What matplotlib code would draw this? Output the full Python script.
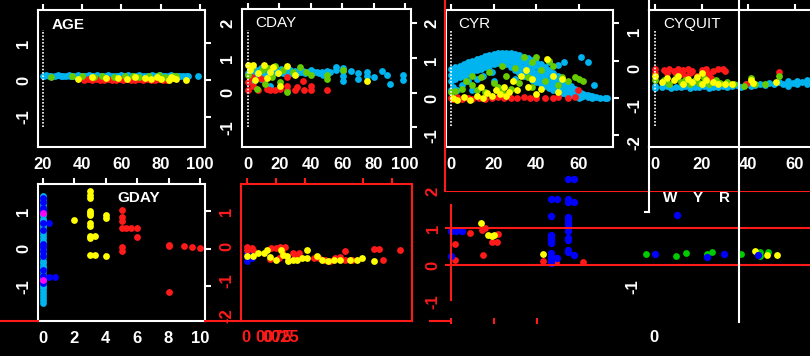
import matplotlib
matplotlib.use("Agg")
import matplotlib.pyplot as plt

plt.rcParams['font.family'] = ['Liberation Sans', 'DejaVu Sans']

# colours used by the original R plot
CYAN = '#00B4F0'
GREEN = '#66CC00'
YELLOW = '#FFFF00'
RED = '#FF1A1A'
BLUE = '#0000FF'
GREEN2 = '#00CC00'
MAGENTA = '#FF00FF'

# ---------------- data ----------------
age_cyan_x = [20, 20.5, 21.5, 23, 24, 26, 27.5, 29, 30, 31.5, 33, 34, 35.5, 37, 38, 39.5, 41, 42, 43.5, 45,
              46, 47.5, 49, 50, 51.5, 53, 54, 55.5, 57, 58, 59.5, 61, 62, 63.5, 65, 66, 67.5, 69, 70, 71.5,
              73, 74, 75.5, 77, 78, 79.5, 81, 82, 83.5, 85, 86, 87.5, 89, 90, 91.5, 93, 94, 99]
age_cyan_y = [0.12, 0.11, 0.13, 0.12, 0.12, 0.11, 0.13, 0.12, 0.11, 0.12,
              0.13, 0.12, 0.11, 0.12, 0.13, 0.11, 0.12, 0.12, 0.13, 0.11,
              0.12, 0.13, 0.12, 0.11, 0.12, 0.13, 0.12, 0.11, 0.12, 0.12,
              0.13, 0.11, 0.12, 0.13, 0.12, 0.11, 0.12, 0.13, 0.12, 0.11,
              0.12, 0.12, 0.13, 0.11, 0.12, 0.13, 0.12, 0.11, 0.12, 0.13,
              0.12, 0.11, 0.10, 0.12, 0.11, 0.10, 0.12, 0.11]
age_red = [(41, 0.0), (43, 0.02), (45, 0.0), (47, 0.03), (49, 0.01), (51, 0.0), (53, 0.02), (55, 0.0),
           (57, 0.01), (59, 0.03), (61, 0.0), (63, 0.02), (65, 0.0), (67, 0.01), (69, 0.03), (71, 0.0),
           (73, 0.02), (75, 0.01), (77, 0.0), (79, 0.02), (81, 0.0), (83, 0.01), (60, 0.04), (70, 0.04)]
age_green = [(24, 0.09), (35, 0.1), (40, 0.1), (46, 0.09), (50, 0.11), (56, 0.08), (62, 0.1), (66, 0.12),
             (69, 0.09), (74, 0.1), (79, 0.13), (82, 0.08), (86, 0.11), (88, 0.1)]
age_yellow = [(38, 0.03), (45, 0.08), (52, 0.05), (58, 0.06), (63, 0.04), (67, 0.08), (72, 0.05), (75, 0.03),
              (78, 0.07), (80, 0.04), (84, 0.0), (86, 0.06), (88, 0.02), (93, 0.0), (85, 0.09)]

cday_cyan = [(0, 0.55), (1, 0.62), (2, 0.7), (3, 0.5), (4, 0.58), (5, 0.66), (6, 0.52), (7, 0.6), (8, 0.7),
             (9, 0.55), (10, 0.63), (11, 0.5), (12, 0.68), (13, 0.57), (14, 0.6), (15, 0.52), (16, 0.65),
             (17, 0.58), (18, 0.62), (19, 0.55), (20, 0.6), (21, 0.67), (22, 0.56), (23, 0.62), (24, 0.58),
             (25, 0.52), (26, 0.6), (27, 0.64), (28, 0.55), (29, 0.6), (30, 0.62), (31, 0.56), (32, 0.6),
             (33, 0.66), (34, 0.58), (35, 0.62), (36, 0.56), (38, 0.6), (40, 0.64), (40, 0.55), (42, 0.58),
             (44, 0.6), (45, 0.55), (47, 0.6), (48, 0.52), (50, 0.62), (50, 0.56), (52, 0.58), (56, 0.65),
             (56, 0.75), (60.7, 0.72), (60.7, 0.62), (60.7, 0.48), (60.7, 0.33), (65.4, 0.62), (70.3, 0.57),
             (70.3, 0.38), (75.6, 0.6), (75.6, 0.48), (80.5, 0.46), (85.6, 0.62), (88.3, 0.5), (90.4, 0.26),
             (98.4, 0.52), (98.4, 0.36), (3, 0.3), (8, 0.4), (14, 0.2)]
cday_red = [(0, 0.07), (0, 0.3), (3.5, 0.2), (6.7, 0.08), (9.9, 0.73), (9.9, 0.35), (12, 0.11), (14.1, 0.08),
            (17.3, 0.07), (20.5, 0.11), (25, 0.45), (25, 0.2), (25, 0.08), (29.9, 0.07), (35.2, 0.33),
            (35.6, 0.07), (40.4, 0.2), (40.4, 0.07), (50, 0.07), (31, 0.16), (7.7, 0.41), (2.4, 0.45)]
cday_green = [(0, 0.5), (2.4, 0.73), (5.6, 0.11), (8.8, 0.65), (10.9, 0.26), (13, 0.7), (15, 0.45), (17.3, 0.76),
              (20.5, 0.3), (22.6, 0.65), (25, 0.02), (28.9, 0.6), (33.1, 0.73), (40.4, 0.5), (50, 0.38),
              (50, 0.5), (60.7, 0.65), (37, 0.6)]
cday_yellow = [(0, 0.79), (1.5, 0.65), (3.5, 0.79), (4.6, 0.35), (6.7, 0.55), (9.9, 0.79), (12, 0.41),
               (14.1, 0.6), (16.2, 0.73), (19.4, 0.55), (20.5, 0.2), (25, 0.76), (75.6, 0.33), (29.9, 0.5)]

cyr_cyan = [(0, 0.78), (2, 0.82), (4, 0.86), (6, 0.9), (8, 0.95), (10, 1.0), (12, 1.04), (14, 1.08), (16, 1.12),
            (18, 1.15), (20, 1.17), (22, 1.19), (24, 1.2), (26, 1.2), (28, 1.19), (30, 1.17), (32, 1.14),
            (34, 1.1), (36, 1.06), (38, 1.01), (40, 0.96), (42, 0.9), (44, 0.84), (46, 0.76), (48, 0.68),
            (50, 0.59), (52, 0.5), (54, 0.4), (56, 0.31), (58, 0.23), (60, 0.16), (62, 0.11), (64, 0.07),
            (66, 0.04), (68, 0.02), (70, 0.0), (72, -0.01), (73, 0.0),
            (1, 0.7), (3, 0.74), (5, 0.8), (7, 0.84), (9, 0.9), (11, 0.94), (13, 0.99), (15, 1.03), (17, 1.07),
            (19, 1.1), (21, 1.12), (23, 1.13), (25, 1.12), (27, 1.1), (29, 1.08), (31, 1.05), (33, 1.0),
            (35, 0.95), (37, 0.9), (39, 0.85), (41, 0.8), (43, 0.73), (45, 0.66), (47, 0.59), (49, 0.52),
            (51, 0.45), (53, 0.37), (55, 0.3), (57, 0.23), (59, 0.17), (61, 0.12), (63, 0.08), (65, 0.05),
            (0, 0.62), (2, 0.66), (4, 0.7), (6, 0.75), (8, 0.8), (10, 0.85), (12, 0.9), (14, 0.95), (16, 0.99),
            (18, 1.02), (20, 1.05), (22, 1.07), (24, 1.06), (26, 1.04), (28, 1.0), (30, 0.95), (32, 0.9),
            (34, 0.84), (36, 0.78), (38, 0.72), (40, 0.66), (42, 0.6), (44, 0.53), (46, 0.46), (48, 0.39),
            (50, 0.33), (52, 0.27), (54, 0.21), (56, 0.16), (58, 0.11), (60, 0.07), (62, 0.04), (64, 0.02),
            (66, 0.01),
            (1, 0.52), (3, 0.58), (5, 0.64), (7, 0.69), (9, 0.74), (11, 0.79), (13, 0.83), (15, 0.88),
            (17, 0.91), (19, 0.95), (21, 0.98), (23, 1.0), (25, 0.98), (33, 0.78), (35, 0.7), (37, 0.63),
            (39, 0.57), (41, 0.51), (43, 0.45), (45, 0.39), (47, 0.32), (49, 0.27), (51, 0.22), (53, 0.17),
            (55, 0.12), (57, 0.08), (59, 0.05), (61, 0.02),
            (0, 0.45), (2, 0.5), (4, 0.56), (6, 0.6), (8, 0.65), (10, 0.7), (12, 0.74), (14, 0.78), (16, 0.82),
            (18, 0.86), (20, 0.9), (22, 0.93), (24, 0.95), (26, 0.9), (28, 0.82), (30, 0.74), (32, 0.67),
            (34, 0.6), (36, 0.55), (38, 0.49), (40, 0.43), (42, 0.37), (44, 0.32), (46, 0.27), (48, 0.22),
            (50, 0.18), (52, 0.14), (54, 0.1), (56, 0.07), (58, 0.04), (60, 0.01),
            (1, 0.3), (3, 0.2), (5, 0.35), (8, 0.45), (12, 0.5), (15, 0.6), (19, 0.7), (0, 0.2), (61, 1.1),
            (64, 0.96), (53, 0.96), (67, 0.34), (46, 0.95), (50, 0.88), (10, 0.2), (20, 0.45), (30, 0.5)]
cyr_red = [(0, 0.0), (1, -0.03), (3, 0.02), (5, -0.02), (8, 0.0), (10, -0.03), (13, 0.01), (16, -0.02),
           (19, 0.0), (22, 0.02), (25, -0.01), (28, 0.01), (31, 0.0), (34, 0.02), (37, 0.0), (40, 0.01),
           (44, 0.0), (48, 0.0), (50, 0.02), (55, 0.0), (58, 0.02), (59.7, 0.22)]
cyr_green = [(0, 0.15), (2, 0.18), (5, 0.25), (7, 0.45), (10, 0.35), (12, 0.2), (14, 0.55), (16, 0.15),
             (18, 0.7), (20, 0.4), (22, 0.3), (24, 0.85), (26, 0.6), (28, 0.25), (30, 0.8), (32, 0.4),
             (34, 1.1), (36, 0.55), (38, 0.3), (40, 1.1), (42, 0.75), (44, 0.45), (46, 1.0), (48, 0.85),
             (50, 0.35), (52, 0.55), (55, 0.45), (58, 0.55), (60, 0.5), (62, 0.45), (38, 0.95), (24, 0.15),
             (10, 0.6)]
cyr_yellow = [(1, 0.0), (3, -0.05), (6, 0.02), (9, -0.05), (12, 0.05), (15, 0.0), (17, 0.12), (19, 0.05),
              (21, 0.22), (23, 0.1), (25, 0.3), (27, 0.15), (29, 0.45), (31, 0.2), (33, 0.6), (35, 0.75),
              (36, 0.3), (38, 0.5), (40, 0.1), (42, 0.25), (45, 1.05), (48, 0.6), (50, 0.15), (52, 0.5),
              (14, 0.3), (26, 0.05)]

cyq_cyan = [(0, -0.45), (0, -0.52), (3, -0.5), (5, -0.47), (7, -0.52), (9, -0.48), (11, -0.5), (13, -0.46),
            (15, -0.52), (17, -0.48), (19, -0.5), (21, -0.46), (23, -0.52), (25, -0.48), (27, -0.5),
            (29, -0.47), (31, -0.5), (33, -0.46), (35, -0.44), (37, -0.48), (39, -0.42), (41, -0.46),
            (43, -0.44), (45, -0.4), (47, -0.44), (49, -0.38), (51, -0.42), (53, -0.36), (55, -0.4),
            (57, -0.34), (59, -0.38), (61, -0.32), (63, -0.36), (65, -0.3), (67, -0.34), (69, -0.3),
            (71, -0.34), (73, -0.28), (75, -0.32), (77, -0.3), (79, -0.34), (57, -0.45), (61, -0.42),
            (65, -0.4)]
cyq_red = [(0, 0.0), (0, -0.12), (4, -0.02), (5, -0.1), (6, 0.0), (8, -0.05), (9, -0.15), (10, 0.0),
           (11, -0.08), (12, -0.03), (13, -0.18), (14, 0.0), (15, -0.1), (16, -0.05), (18, -0.2), (20, -0.02),
           (21, -0.1), (22, 0.0), (23, -0.15), (25, -0.05), (27, 0.0), (29, 0.0), (30, -0.05), (24, -0.25),
           (39, -0.4), (53, -0.08)]
cyq_green = [(0, -0.3), (4, -0.3), (6, -0.4), (9, -0.25), (11, -0.35), (13, -0.3), (15, -0.42), (17, -0.3),
             (19, -0.38), (21, -0.25), (23, -0.4), (26, -0.3), (28, -0.38), (31, -0.35), (34, -0.4),
             (38, -0.45), (41, -0.25), (43, -0.4), (47, -0.42), (53, -0.2)]
cyq_yellow = [(0, -0.2), (3, -0.35), (5, -0.25), (8, -0.3), (10, -0.2), (12, -0.4), (14, -0.28), (16, -0.35),
              (18, -0.22), (20, -0.4), (22, -0.3), (25, -0.35), (27, -0.42), (30, -0.4), (33, -0.42),
              (41, -0.3), (42, -0.38), (52, -0.35), (20, -0.1)]

gday_cyan = [(0, 1.42), (0, 1.36), (0.02, 1.27), (0, 1.2), (0, 1.13), (0.03, 1.04), (0, 0.97), (0, 0.9),
             (0.02, 0.81), (0, 0.75), (0, 0.67), (0.03, 0.6), (0, 0.53), (0, 0.44), (0.02, 0.38), (0, 0.3),
             (0, 0.21), (0.03, 0.15), (0, 0.07), (0, 0.0), (0.02, -0.08), (0, -0.16), (0, -0.22),
             (0.03, -0.31), (0, -0.37), (0, -0.46), (0.02, -0.52), (0, -0.6), (0, -0.69), (0.03, -0.75),
             (0, -0.83), (0, -0.9), (0.02, -0.99), (0, -1.05), (0, -1.13), (0.03, -1.2), (0, -1.28),
             (0, -1.35), (0, -1.44)]
gday_blue = [(0, 1.35), (0, 1.25), (0, 1.08), (0, 1.0), (0, 0.7), (0.4, 0.7), (0, 0.5), (0, 0.13), (0, 0.05),
             (0, -0.05), (0, -0.2), (0, -0.55), (0, -0.72), (0.4, -0.75), (0.75, -0.75), (0, -0.9)]
gday_magenta = [(0, 0.95), (0, -0.82)]
gday_yellow = [(2, 0.78), (3, 1.55), (3, 1.45), (3, 1.35), (3, 1.0), (3, 0.95), (3, 0.9), (3, 0.7), (3, 0.6),
               (3, 0.35), (3, 0.3), (3, -0.15), (3.3, 0.35), (3.3, -0.15), (4, 0.9), (4, 0.82), (4, -0.18)]
gday_red = [(5, 1.03), (5, 0.85), (5, 0.75), (5, 0.55), (5, 0.05), (5, -0.05), (5.3, 0.55), (5.6, 0.55),
            (6, 0.57), (6, 0.32), (8, 0.1), (8, 0.07), (8, -1.15), (9, 0.08), (9.5, 0.05), (10, 0.03)]

p6_blue = [(0.1, -0.21), (0.1, -0.42), (1.6, -0.33)]
p6_red = [(0.1, -0.04), (0.1, -0.11), (1.6, -0.06), (2.2, -0.11), (8.4, -0.06), (9.9, -0.06), (11.3, -0.04),
          (11.9, -0.16), (13.1, -0.04), (14.1, -0.4), (15.9, -0.21), (17.8, -0.21), (16.4, -0.31),
          (11.2, -0.33), (23, -0.35), (24.9, -0.33), (27, -0.39), (28.7, -0.43), (30.5, -0.33),
          (32.2, -0.31), (33.9, -0.14), (33.9, -0.4), (36.2, -0.4), (43.8, -0.09), (45.6, -0.09),
          (46.8, -0.4), (52.8, -0.12), (7.8, -0.36)]
p6_yellow = [(0.1, -0.29), (1.9, -0.29), (3.8, -0.21), (5.9, -0.21), (7.0, -0.1), (7.8, -0.31), (9.9, -0.39),
             (11.6, -0.12), (12.4, -0.27), (13.9, -0.29), (14.1, -0.42), (15.9, -0.39), (17.4, -0.4),
             (18.8, -0.35), (20.8, -0.1), (20.7, -0.35), (24, -0.29), (25.7, -0.4), (28, -0.42), (30, -0.39),
             (32, -0.4), (35.5, -0.39), (37.8, -0.39), (39.8, -0.33), (43.8, -0.43)]

p7_blue = [(0, 0.92), (0.12, 0.92), (0.26, 0.92), (0, 0.24),
           (2.33, 1.78), (2.33, 1.32), (2.33, 0.81), (2.33, 0.73), (2.33, 0.68), (2.33, 0.59), (2.33, 0.32),
           (2.33, 0.24), (2.33, 0.19), (2.33, 0.11), (2.33, 0.05), (2.47, 1.78), (2.47, 0.19),
           (2.72, 2.32), (2.72, 1.78), (2.72, 1.70), (2.72, 1.30), (2.72, 1.24), (2.72, 1.14), (2.72, 1.05),
           (2.72, 0.92), (2.72, 0.73), (2.72, 0.68), (2.72, 0.41), (2.72, 0.35), (2.86, 2.32), (2.86, 1.70),
           (2.86, 0.27),
           (4.74, 0.30), (5.95, 0.22), (6.35, 0.30), (7.14, 0.27), (5.26, 1.35)]
p7_red = [(0.44, 0.86), (0.79, 1.0), (0.72, 0.95), (1.09, 0.84), (0.95, 0.62), (1.07, 0.62), (0.09, 0.57),
          (0.09, 0.14), (0.74, 0.27), (2.14, 0.11), (2.44, 0.08), (3.07, 0.08)]
p7_yellow = [(0.70, 1.14), (0.86, 0.81), (0.95, 0.78), (1.0, 0.81), (2.14, 0.30),
             (7.07, 0.38), (7.35, 0.27), (7.58, 0.27)]
p7_green = [(4.53, 0.30), (5.23, 0.24), (5.47, 0.32), (5.95, 0.30), (6.07, 0.35), (6.74, 0.30), (7.19, 0.35),
            (7.19, 0.24), (7.37, 0.35)]

legend_letters = ['W', 'Y', 'R']

# ---------------- figure ----------------
W, H = 810, 356
fig = plt.figure(figsize=(W / 100, H / 100), dpi=100, facecolor='black')


def panel(box, xlim, ylim, xt, yt, col='white', xlab=True, ylen=4, ypad=1, right=True):
    x0, y0, x1, y1 = box
    ax = fig.add_axes([x0 / W, 1 - y1 / H, (x1 - x0) / W, (y1 - y0) / H])
    ax.set_facecolor('none')
    ax.set_xlim(xlim)
    ax.set_ylim(ylim)
    for s in ax.spines.values():
        s.set_color(col)
        s.set_linewidth(1.5)
    ax.set_xticks(xt, labels=[str(v) for v in xt] if xlab else [''] * len(xt), fontweight='bold')
    ax.set_yticks(yt, labels=[str(v) for v in yt], va='center', fontweight='bold')
    ax.tick_params(axis='x', top=True, bottom=False, labeltop=False, labelbottom=xlab, direction='out',
                   length=4, width=1.5, color=col, labelcolor=col, labelsize=12, pad=3)
    ax.tick_params(axis='y', left=False, right=right, labelleft=True, labelright=False, direction='out',
                   length=ylen, width=1.5, color=col, labelcolor=col, labelsize=12, pad=ypad, labelrotation=90)
    return ax


def dots(ax, pts, color, s=24, clip=True):
    ax.scatter([p[0] for p in pts], [p[1] for p in pts], s=s, c=color, linewidths=0, clip_on=clip)


def rug(ax, x, ylo, yhi):
    ax.plot([x, x], [ylo, yhi], color='white', lw=1.2, ls=(0, (1, 1)))


# top row
ax = panel((38, 10, 205, 147), (17.45, 102.55), (-1.81, 1.89), [20, 40, 60, 80, 100], [-1, 0, 1])
ax.scatter(age_cyan_x, age_cyan_y, s=24, c=CYAN, linewidths=0)
dots(ax, age_red, RED)
dots(ax, age_green, GREEN)
dots(ax, age_yellow, YELLOW)
rug(ax, 20, -1.27, 1.35)

ax = panel((242, 9, 411, 147), (-3.8, 103.8), (-1.57, 2.41), [0, 20, 40, 60, 80, 100], [-1, 0, 1, 2])
dots(ax, cday_cyan, CYAN)
dots(ax, cday_red, RED)
dots(ax, cday_green, GREEN)
dots(ax, cday_yellow, YELLOW)
rug(ax, 0, -0.99, 1.8)

ax = panel((446, 10, 613, 147), (-2.34, 75.9), (-1.31, 2.35), [0, 20, 40, 60], [-1, 0, 1, 2])
dots(ax, cyr_cyan, CYAN)
dots(ax, cyr_red, RED)
dots(ax, cyr_green, GREEN)
dots(ax, cyr_yellow, YELLOW)
rug(ax, 0, -0.75, 1.81)

ax = panel((649, 10, 850, 147), (-2.57, 83.6), (-2.11, 1.59), [0, 20, 40, 60], [-2, -1, 0, 1])
dots(ax, cyq_cyan, CYAN)
dots(ax, cyq_red, RED)
dots(ax, cyq_green, GREEN)
dots(ax, cyq_yellow, YELLOW)
rug(ax, 0, -1.54, 1.05)

# bottom row
ax = panel((38, 184, 205, 321), (-0.32, 10.32), (-1.92, 1.73), [0, 2, 4, 6, 8, 10], [-1, 0, 1])
dots(ax, gday_cyan, CYAN)
dots(ax, gday_blue, BLUE)
dots(ax, gday_magenta, MAGENTA)
dots(ax, gday_yellow, YELLOW)
dots(ax, gday_red, RED)

ax = panel((241, 184, 412, 321), (-2.07, 56.9), (-2.14, 1.77), [0, 10, 20, 40, 50], [-2, -1, 0, 1],
           col=RED, xlab=False, right=False)
dots(ax, p6_blue, BLUE)
dots(ax, p6_red, RED)
dots(ax, p6_yellow, YELLOW)

ax = panel((445, 191, 810, 321), (-0.14, 8.35), (-1.51, 2.0), [0, 1, 2], [-1, 0, 1, 2],
           col=RED, xlab=False, ylen=0, ypad=3, right=False)
for s in ax.spines.values():
    s.set_visible(False)
ax.tick_params(axis='x', top=False, bottom=True, direction='inout', length=4)
for yv in [0, 1, 2]:
    ax.axhline(yv, color=RED, lw=1.5)
ax.plot([0, 0], [-0.95, 1.62], color=RED, lw=1.5)
dots(ax, p7_green, GREEN2, clip=False)
dots(ax, p7_red, RED, clip=False)
dots(ax, p7_yellow, YELLOW, clip=False)
dots(ax, p7_blue, BLUE, s=28, clip=False)

# overlay for stray lines and labels
ov = fig.add_axes([0, 0, 1, 1], zorder=10)
ov.set_xlim(0, W)
ov.set_ylim(H, 0)
ov.axis('off')
ov.patch.set_alpha(0)

for xs, ys in [([445, 445], [0, 191]), ([0, 38], [321, 321]), ([205, 241], [321, 321]),
               ([430, 451], [321, 321])]:
    ov.plot(xs, ys, color=RED, lw=1.5)
for xs, ys in [([739, 739], [0, 322]), ([649, 649], [0, 10]), ([649, 649], [147, 212]),
               ([645, 649], [212, 212])]:
    ov.plot(xs, ys, color='white', lw=1.5)

for label, x, y, w in [('AGE', 52, 25, 'bold'), ('CDAY', 255, 23, 'normal'), ('CYR', 458, 24, 'normal'),
                       ('CYQUIT', 663, 24, 'normal'), ('GDAY', 117, 198, 'bold')]:
    ov.text(x, y, label, color='white', fontsize=11, fontweight=w, ha='left', va='center')

for letter, x in zip(legend_letters, [670, 698, 724]):
    ov.text(x, 198, letter, color='white', fontsize=11, fontweight='bold', ha='center', va='center')

ov.text(246, 338, '0', color=RED, fontsize=12, fontweight='bold', ha='center', va='center')
ov.text(255, 338, '0075', color=RED, fontsize=12, fontweight='bold', ha='left', va='center')
ov.text(262, 338, '0025', color=RED, fontsize=12, fontweight='bold', ha='left', va='center')
ov.text(633, 287, '-1', color='white', fontsize=12, fontweight='bold', ha='center', va='center', rotation=90)
ov.text(654, 338, '0', color='white', fontsize=12, fontweight='bold', ha='center', va='center')

fig.savefig('out.png', dpi=100, facecolor='black')
